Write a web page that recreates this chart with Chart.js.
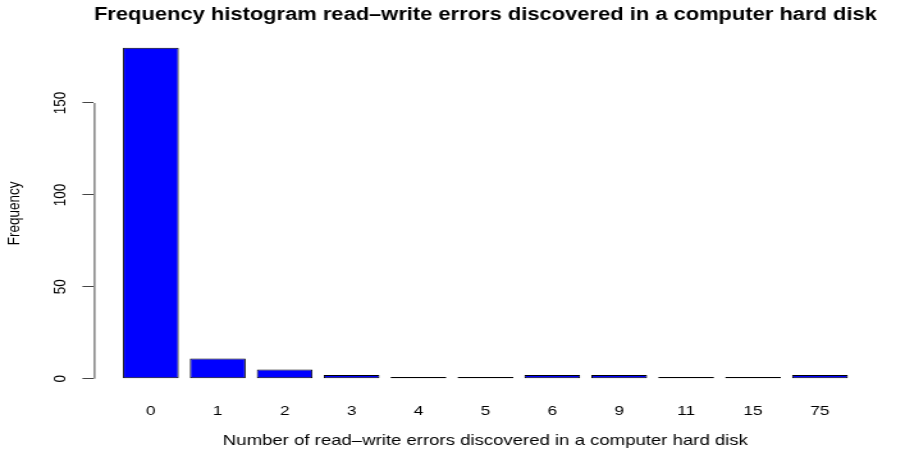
<!DOCTYPE html>
<html>
<head>
<meta charset="utf-8">
<script src="https://cdn.jsdelivr.net/npm/chart.js@4"></script>
<style>
  html, body { margin: 0; padding: 0; background: #fff; overflow: hidden; }
  /* the reference picture is a horizontally stretched R plot */
  #wrap { width: 709px; height: 454px; transform: scaleX(1.28); transform-origin: 0 0; }
</style>
</head>
<body>
<div id="wrap"><canvas id="errChart" width="709" height="454"></canvas></div>
<script>
// number of read-write errors per disk, and how many disks had it
const errorCounts = ["0", "1", "2", "3", "4", "5", "6", "9", "11", "15", "75"];
const frequencies = [180, 11, 5, 2, 1, 1, 2, 2, 1, 1, 2];
const yTicks = [0, 50, 100, 150];

const FONT = "'Liberation Sans', Arial, sans-serif";

// R-style y axis line, only from first to last tick
const axisLine = {
  id: "axisLine",
  afterDraw(chart) {
    const y = chart.scales.y;
    const ctx = chart.ctx;
    ctx.save();
    ctx.strokeStyle = "#444";
    ctx.lineWidth = 1;
    ctx.beginPath();
    ctx.moveTo(y.right + 0.5, y.getPixelForValue(yTicks[0]));
    ctx.lineTo(y.right + 0.5, y.getPixelForValue(yTicks[yTicks.length - 1]));
    ctx.stroke();
    ctx.restore();
  }
};

new Chart(document.getElementById("errChart"), {
  type: "bar",
  data: {
    datasets: [{
      data: frequencies.map((v, i) => ({ x: i, y: v })),
      backgroundColor: "#0000ff",
      borderColor: "#000",
      borderWidth: 1,
      borderSkipped: false,
      categoryPercentage: 1,
      barPercentage: 1 / 1.2
    }]
  },
  plugins: [axisLine],
  options: {
    responsive: false,
    animation: false,
    layout: { padding: { left: 0, right: 24, top: 0, bottom: 0 } },
    plugins: {
      legend: { display: false },
      tooltip: { enabled: false },
      title: {
        display: true,
        fullSize: false,
        text: "Frequency histogram read\u2013write errors discovered in a computer hard disk",
        font: { family: FONT, size: 18, weight: "bold" },
        color: "#000",
        padding: { top: 4, bottom: 9 }
      }
    },
    scales: {
      x: {
        type: "linear",
        offset: false,
        min: -0.85,
        max: 10.85,
        afterBuildTicks: s => { s.ticks = errorCounts.map((_, i) => ({ value: i })); },
        afterFit: s => { s.height = 62; },
        grid: { display: false, drawTicks: false },
        border: { display: false },
        ticks: {
          autoSkip: false,
          maxRotation: 0,
          padding: 11,
          color: "#000",
          font: { family: FONT, size: 13.5 },
          callback: v => errorCounts[v]
        },
        title: {
          display: true,
          text: "Number of read\u2013write errors discovered in a computer hard disk",
          color: "#000",
          font: { family: FONT, size: 14.5 },
          padding: { top: 6, bottom: 4 }
        }
      },
      y: {
        min: -7.2,
        max: 187.2,
        afterBuildTicks: s => { s.ticks = yTicks.map(v => ({ value: v })); },
        afterFit: s => { s.width = 73.4; },
        grid: { drawOnChartArea: false, tickLength: 9, color: "#444" },
        border: { display: false },
        ticks: {
          minRotation: 90,
          maxRotation: 90,
          crossAlign: "center",
          padding: 6,
          color: "#000",
          font: { family: FONT, size: 13.5 }
        },
        title: {
          display: true,
          text: "Frequency",
          color: "#000",
          font: { family: FONT, size: 13.5 },
          padding: { top: 3, bottom: 4 }
        }
      }
    }
  }
});
</script>
</body>
</html>
